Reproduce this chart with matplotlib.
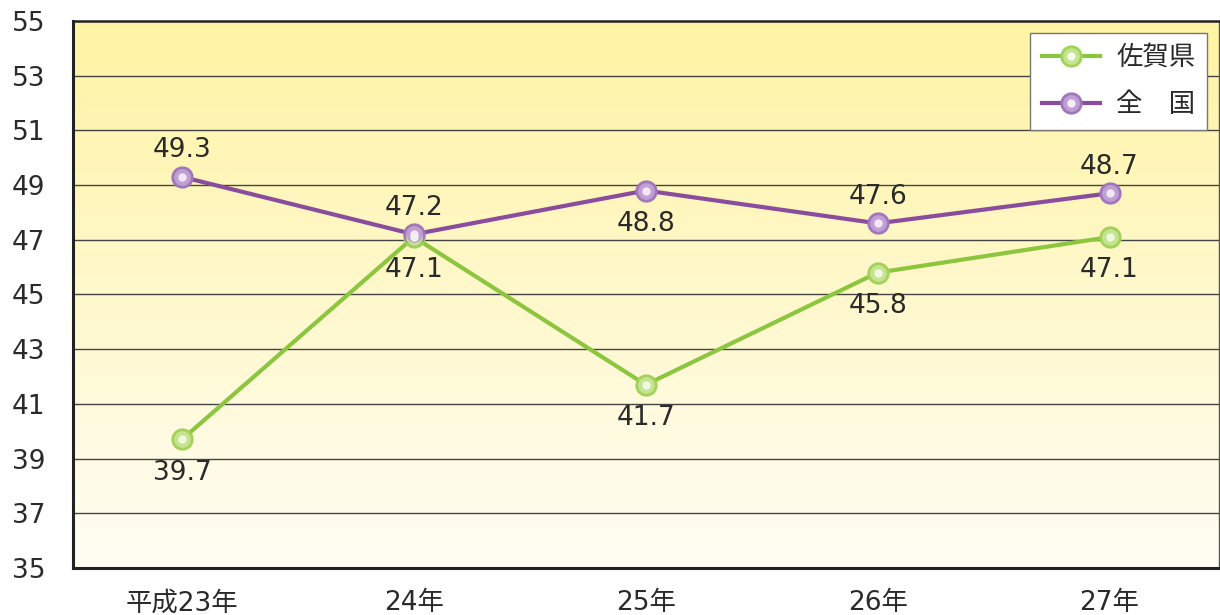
import numpy as np
import matplotlib.pyplot as plt
from matplotlib.lines import Line2D

plt.rcParams['font.family'] = ['DejaVu Sans', 'Noto Sans CJK JP']

# データ
years = ['平成23年', '24年', '25年', '26年', '27年']
saga = [39.7, 47.1, 41.7, 45.8, 47.1]
zenkoku = [49.3, 47.2, 48.8, 47.6, 48.7]
# ラベルの位置 (1=上, -1=下)
saga_pos = [-1, -1, -1, -1, -1]
zenkoku_pos = [1, 1, -1, 1, 1]
yticks = np.arange(35, 56, 2)

fig = plt.figure(figsize=(12.2, 6.15), dpi=100)
ax = fig.add_axes([0.0598, 0.0764, 0.939, 0.8895])
x = np.arange(len(years))
ax.set_xlim(-0.47, 4.47)
ax.set_ylim(35, 55)

# 背景のグラデーション
top = np.array([1.0, 0.953, 0.64])
bot = np.array([1.0, 0.995, 0.96])
t = np.linspace(0, 1, 256)[:, None]
grad = (top * (1 - t) + bot * t)[:, None, :]
ax.imshow(grad, extent=[-0.47, 4.47, 35, 55], aspect='auto', zorder=0)

for yy in yticks[1:-1]:
    ax.axhline(yy, color='#444444', lw=1, zorder=1)

green = ('#8cc63e', '#a3d15a', '#c4e48e', '#f4fbe8')
purple = ('#8a4d9e', '#a276bb', '#c0a0d4', '#f5eefa')


def draw(vals, cols, pos):
    line_c, dark_c, mid_c, light_c = cols
    ax.plot(x, vals, color=line_c, lw=3, zorder=3)
    ax.plot(x, vals, 'o', ms=15, color=dark_c, mec=dark_c, zorder=4)
    ax.plot(x, vals, 'o', ms=11, color=mid_c, mec=mid_c, zorder=5)
    ax.plot(x, vals, 'o', ms=5, color=light_c, mec=light_c, alpha=0.9, zorder=6)
    for xi, v, p in zip(x, vals, pos):
        off = 19 if p > 0 else -24
        ax.annotate(f'{v:.1f}', (xi, v), xytext=(0, off), textcoords='offset points',
                    ha='center', va='center', fontsize=19, color='#2a2a2a', zorder=7)


draw(saga, green, saga_pos)
draw(zenkoku, purple, zenkoku_pos)

ax.set_yticks(yticks)
ax.set_xticks(x)
ax.set_xticklabels(years)
ax.tick_params(axis='y', length=0, pad=20, labelsize=19, colors='#2a2a2a')
ax.tick_params(axis='x', length=0, pad=16, labelsize=19, colors='#2a2a2a')

for s in ['left', 'bottom']:
    ax.spines[s].set_linewidth(2.2)
    ax.spines[s].set_color('#222222')
ax.spines['top'].set_linewidth(1.8)
ax.spines['top'].set_color('#222222')
ax.spines['right'].set_linewidth(1)
ax.spines['right'].set_color('#555555')


def handle(cols):
    line_c, dark_c, mid_c, light_c = cols
    return (Line2D([], [], color=line_c, lw=3),
            Line2D([], [], marker='o', ls='', ms=15, color=dark_c),
            Line2D([], [], marker='o', ls='', ms=11, color=mid_c),
            Line2D([], [], marker='o', ls='', ms=5, color=light_c))


leg = ax.legend([handle(green), handle(purple)],
                ['佐賀県', '全\u3000国'], loc='upper right', fontsize=19,
                fancybox=False, framealpha=1, edgecolor='#777777',
                handlelength=2.2, handletextpad=0.6, labelspacing=0.8,
                borderpad=0.45, borderaxespad=0,
                bbox_to_anchor=(0.99, 0.978))
leg.get_frame().set_linewidth(1)
for txt in leg.get_texts():
    txt.set_color('#2a2a2a')

fig.savefig('out.png', dpi=100)
